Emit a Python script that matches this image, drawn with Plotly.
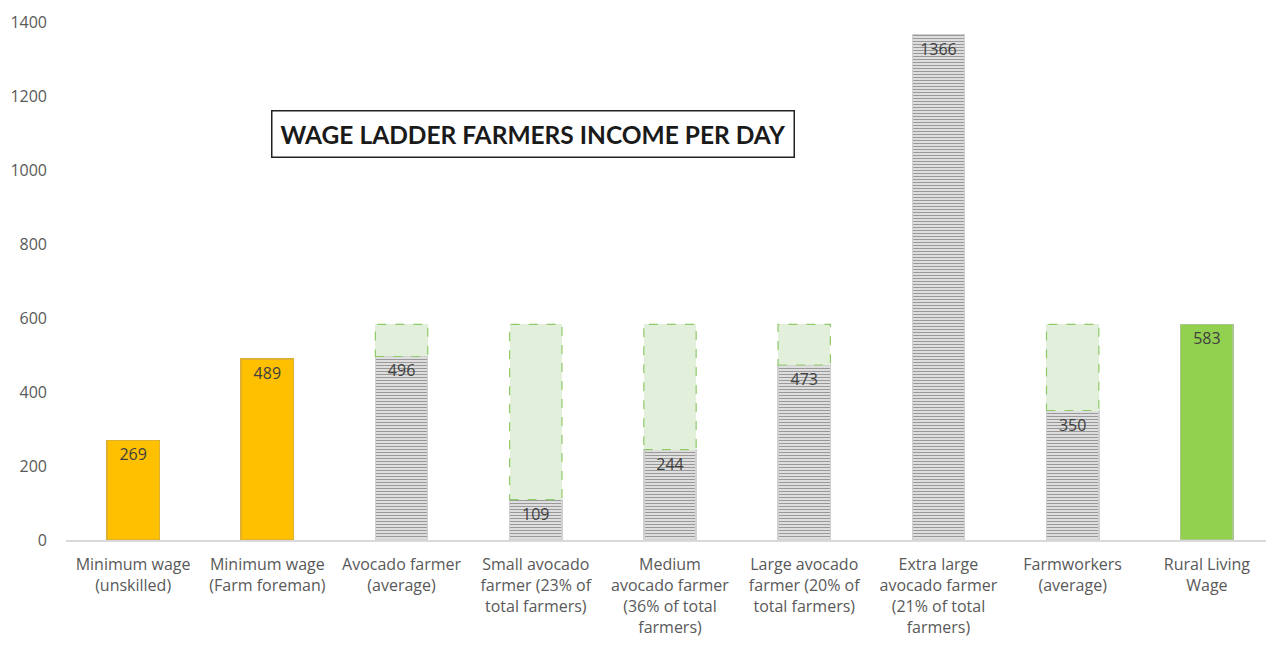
import plotly.graph_objects as go

categories = [
    "Minimum wage<br>(unskilled)",
    "Minimum wage<br>(Farm foreman)",
    "Avocado farmer<br>(average)",
    "Small avocado<br>farmer (23% of<br>total farmers)",
    "Medium<br>avocado farmer<br>(36% of total<br>farmers)",
    "Large avocado<br>farmer (20% of<br>total farmers)",
    "Extra large<br>avocado farmer<br>(21% of total<br>farmers)",
    "Farmworkers<br>(average)",
    "Rural Living<br>Wage",
]
income = [269, 489, 496, 109, 244, 473, 1366, 350, 583]
kind = ["wage", "wage", "farm", "farm", "farm", "farm", "farm", "farm", "living"]
living_wage = 583
has_gap = [False, False, True, True, True, True, False, True, False]

gap = [living_wage - v if g else None for v, g in zip(income, has_gap)]

fill_map = {"wage": "#ffc000", "farm": "#dedede", "living": "#92d050"}
line_map = {"wage": "#e0b030", "farm": "#d0d0d0", "living": "#a8c890"}
pat_map = {"wage": "", "farm": "-", "living": ""}

x = list(range(len(categories)))
W = 0.39

fig = go.Figure()
fig.add_trace(go.Bar(
    x=x, y=income, width=W,
    marker=dict(
        color=[fill_map[k] for k in kind],
        line=dict(color=[line_map[k] for k in kind], width=1.5),
        pattern=dict(shape=[pat_map[k] for k in kind], fgcolor="#c2c2c2",
                     bgcolor="#e8e8e8", size=3, solidity=0.3, fillmode="overlay"),
    ),
    text=[str(v) for v in income], textposition="inside", insidetextanchor="end",
    textfont=dict(family="Open Sans, sans-serif", size=16, color="#404040"),
    constraintext="none", hoverinfo="skip",
))
fig.add_trace(go.Bar(
    x=x, y=gap, width=W,
    marker=dict(color="#e2efda", line=dict(width=0)),
    hoverinfo="skip",
))

for i, (v, g) in enumerate(zip(income, has_gap)):
    if g:
        fig.add_shape(type="rect", xref="x", yref="y",
                      x0=i - W / 2, x1=i + W / 2, y0=v, y1=living_wage,
                      line=dict(color="#8fca6a", width=1.2, dash="dash"),
                      fillcolor="rgba(0,0,0,0)")

fig.add_annotation(
    x=2.98, y=1097, xref="x", yref="y",
    text="<b>WAGE LADDER FARMERS INCOME PER DAY</b>",
    showarrow=False,
    font=dict(family="Lato, sans-serif", size=24.5, color="#1a1a1a"),
    bordercolor="#222222", borderwidth=1.5, borderpad=8, bgcolor="white",
)

fig.update_layout(
    barmode="stack",
    showlegend=False,
    width=1266, height=637,
    margin=dict(l=58, r=0, t=14, b=105),
    plot_bgcolor="white", paper_bgcolor="white",
    font=dict(family="Open Sans, sans-serif", size=16, color="#595959"),
)
fig.update_xaxes(
    range=[-0.5, 8.5], tickmode="array", tickvals=x, ticktext=categories,
    showgrid=False, zeroline=False, showline=True, linecolor="#d9d9d9", linewidth=2,
    ticks="", tickfont=dict(size=16, color="#595959"), automargin=False,
    ticklabelstandoff=9,
)
fig.update_yaxes(
    range=[0, 1400], dtick=200, showgrid=False, zeroline=False, showline=False,
    ticks="", tickfont=dict(size=16, color="#595959"), ticklabelstandoff=18,
    automargin=False,
)

fig.write_html("out.html")
